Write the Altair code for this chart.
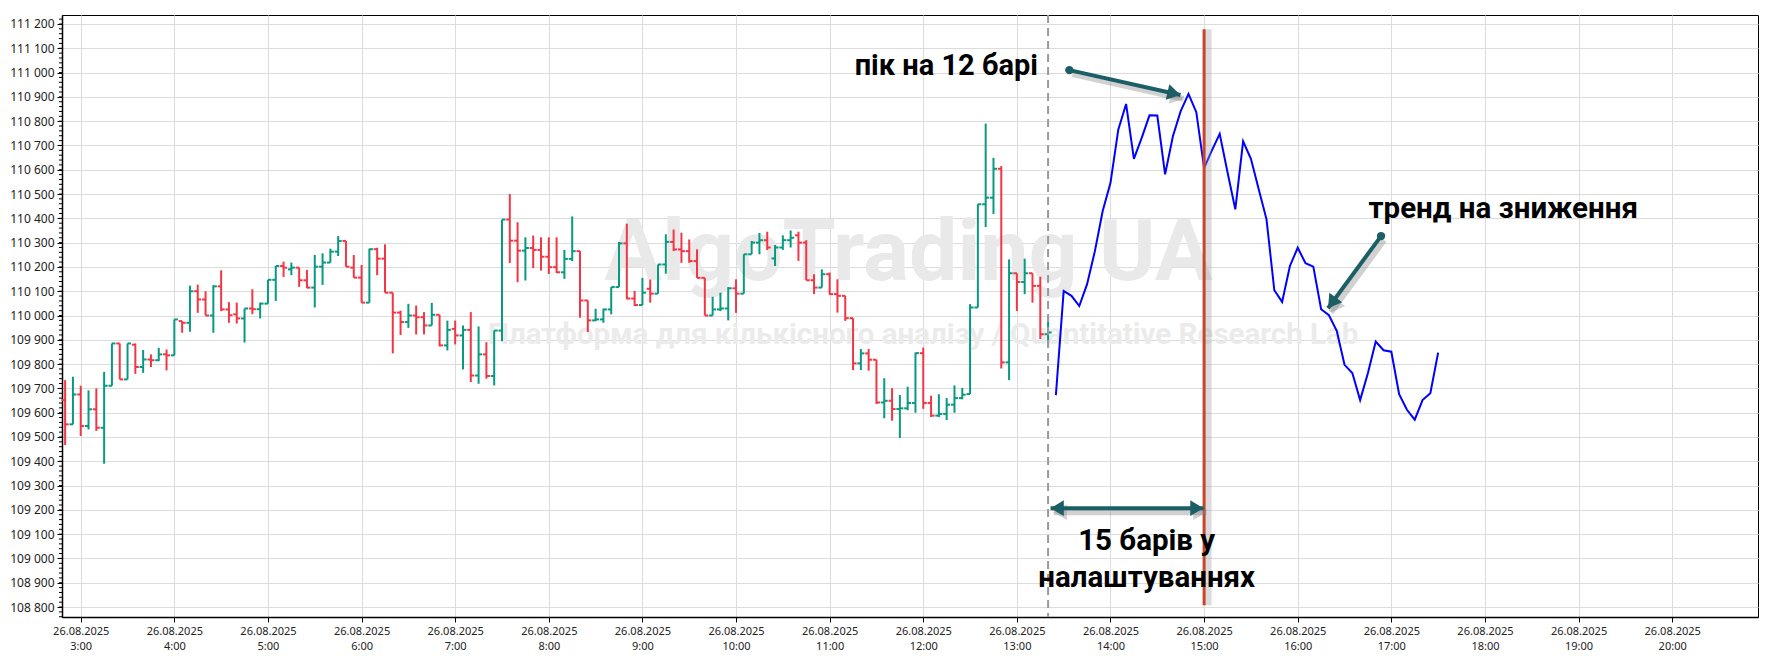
import altair as alt
import pandas as pd

# ---------------- data ----------------
BAR_START = "2025-08-26 02:50"
bar_open = [109652, 109552, 109675, 109545, 109614, 109538, 109711, 109885, 109737, 109880,
            109788, 109819, 109816, 109840, 109836, 109977, 109970, 110100, 110066, 110000,
            110120, 110025, 110005, 109988, 110029, 110026, 110049, 110147, 110204, 110190,
            110197, 110145, 110115, 110201, 110218, 110263, 110307, 110197, 110156, 110053,
            110273, 110234, 110094, 110012, 109973, 110000, 109993, 109959, 110003, 109877,
            109945, 109918, 109941, 109753, 109840, 109751, 109938, 110395, 110308, 110267,
            110278, 110270, 110242, 110199, 110178, 110233, 110265, 110062, 109980, 109984,
            110025, 110117, 110297, 110070, 110043, 110110, 110090, 110210, 110303, 110272,
            110265, 110224, 110155, 110000, 110025, 110029, 110112, 110090, 110252, 110300,
            110310, 110235, 110280, 110310, 110330, 110300, 110145, 110115, 110170, 110088,
            110081, 109989, 109803, 109844, 109818, 109642, 109649, 109615, 109618, 109640,
            109845, 109640, 109588, 109595, 109633, 109660, 109677, 110033, 110458, 110485,
            110604, 109807, 110174, 110138, 110174, 110122, 109923]
bar_high = [109734, 109748, 109711, 109692, 109700, 109768, 109885, 109885, 109885, 109885,
            109858, 109840, 109867, 109860, 109984, 109977, 110123, 110127, 110100, 110125,
            110186, 110055, 110053, 110029, 110108, 110053, 110147, 110204, 110222, 110218,
            110197, 110188, 110249, 110256, 110275, 110327, 110307, 110249, 110208, 110275,
            110279, 110293, 110094, 110020, 110048, 110041, 110014, 110052, 110003, 109979,
            109979, 109959, 110014, 109955, 109890, 109938, 110395, 110500, 110384, 110322,
            110329, 110322, 110322, 110322, 110270, 110408, 110265, 110062, 110028, 110028,
            110117, 110303, 110378, 110101, 110155, 110148, 110210, 110334, 110354, 110341,
            110313, 110272, 110155, 110077, 110094, 110117, 110149, 110252, 110307, 110340,
            110345, 110290, 110330, 110350, 110345, 110310, 110170, 110190, 110177, 110149,
            110081, 109989, 109862, 109862, 109818, 109742, 109701, 109673, 109707, 109848,
            109868, 109670, 109676, 109660, 109712, 109702, 110047, 110458, 110790, 110649,
            110615, 110231, 110174, 110234, 110174, 110160, 109998]
bar_low = [109467, 109552, 109504, 109531, 109525, 109390, 109711, 109737, 109737, 109760,
           109764, 109788, 109812, 109774, 109836, 109929, 109933, 110011, 110000, 109929,
           110018, 109970, 109967, 109889, 110005, 109988, 110049, 110060, 110159, 110166,
           110118, 110112, 110033, 110126, 110218, 110245, 110201, 110156, 110053, 110053,
           110166, 110094, 109844, 109920, 109949, 109922, 109922, 109959, 109873, 109856,
           109881, 109778, 109726, 109719, 109740, 109712, 109894, 110216, 110137, 110144,
           110195, 110185, 110171, 110175, 110151, 110224, 109991, 109932, 109977, 109970,
           110005, 110117, 110067, 110039, 110043, 110053, 110090, 110172, 110265, 110217,
           110217, 110155, 110000, 110000, 110018, 109980, 110011, 110090, 110252, 110252,
           110270, 110204, 110270, 110280, 110225, 110145, 110088, 110115, 110085, 110012,
           109978, 109775, 109775, 109773, 109636, 109577, 109567, 109496, 109610, 109600,
           109616, 109582, 109582, 109570, 109600, 109655, 109677, 110033, 110364, 110418,
           109782, 109734, 110019, 110088, 110053, 109903, 109875]
bar_close = [109552, 109675, 109545, 109614, 109538, 109711, 109885, 109737, 109885, 109788,
             109819, 109816, 109840, 109836, 109984, 109970, 110100, 110066, 110000, 110120,
             110025, 110001, 109988, 110029, 110026, 110049, 110147, 110204, 110197, 110197,
             110145, 110115, 110201, 110218, 110263, 110307, 110201, 110156, 110053, 110273,
             110234, 110094, 110012, 109973, 110000, 109993, 109959, 110003, 109877, 109941,
             109918, 109941, 109753, 109840, 109751, 109938, 110395, 110308, 110267, 110278,
             110270, 110242, 110199, 110178, 110233, 110265, 110062, 109980, 109984, 110025,
             110117, 110297, 110070, 110043, 110094, 110090, 110210, 110303, 110272, 110265,
             110224, 110155, 110000, 110025, 110029, 110112, 110090, 110252, 110300, 110310,
             110280, 110280, 110310, 110320, 110300, 110145, 110115, 110170, 110088, 110081,
             109989, 109803, 109844, 109818, 109642, 109649, 109615, 109618, 109640, 109845,
             109640, 109588, 109595, 109633, 109660, 109674, 110033, 110458, 110485, 110604,
             109807, 110174, 110138, 110174, 110122, 109923, 109930]

FC_START = "2025-08-26 13:25"
forecast = [109672, 110101, 110081, 110039, 110129, 110265, 110430, 110546, 110765, 110871,
            110645, 110731, 110824, 110823, 110581, 110738, 110841, 110912, 110837, 110608,
            110680, 110748, 110590, 110437, 110717, 110645, 110520, 110396, 110104, 110056,
            110204, 110279, 110215, 110201, 110026, 110001, 109937, 109797, 109763, 109652,
            109763, 109893, 109857, 109851, 109676, 109612, 109571, 109652, 109680, 109847]

y_major = list(range(108800, 111201, 100))
y_minor = list(range(108760, 111237, 20))
x_hours = list(range(3, 21))

GREEN = "#089981"
RED = "#f23645"
TEAL = "#1b5e66"
SHADOW = "#7a7a7a"
FONT = "Roboto"

W, H = 1696, 602


def ts(s):
    return pd.Timestamp(s).strftime("%Y-%m-%dT%H:%M:%SZ")


times = pd.date_range(BAR_START, periods=len(bar_close), freq="5min")
bars = pd.DataFrame({
    "t": [x.strftime("%Y-%m-%dT%H:%M:%SZ") for x in times],
    "open": bar_open, "high": bar_high, "low": bar_low, "close": bar_close,
})
bars["dir"] = ["up" if c >= o else "down" for o, c in zip(bar_open, bar_close)]

ftimes = pd.date_range(FC_START, periods=len(forecast), freq="5min")
fc = pd.DataFrame({"t": [x.strftime("%Y-%m-%dT%H:%M:%SZ") for x in ftimes], "v": forecast})


def dt(h, m=0, s=0):
    return alt.DateTime(year=2025, month=8, date=26, hours=h, minutes=m, seconds=s, utc=True)


xscale = alt.Scale(type="utc", domain=[dt(2, 48), dt(20, 55)])
yscale = alt.Scale(domain=[108759, 111237], nice=False, zero=False)

X_axis = alt.Axis(values=[dt(h) for h in x_hours],
                  labelExpr="[utcFormat(datum.value, '%d.%m.%Y'), utcFormat(datum.value, '%-H:%M')]",
                  labelFont="Noto Sans", labelFontSize=11, labelColor="#222",
                  labelLineHeight=15, labelPadding=3, tickSize=5, tickColor="#000",
                  domainColor="#000", domainWidth=1.5, gridColor="#dcdcdc",
                  labelFlush=False, labelOverlap=False)
Y_axis = alt.Axis(values=y_major, tickCount=25,
                  labelExpr="replace(format(datum.value, ','), ',', ' ')",
                  labelFont="Noto Sans", labelFontSize=12, labelColor="#222",
                  tickSize=5, tickColor="#000", labelPadding=3, labelOverlap=False,
                  domainColor="#000", domainWidth=1.5, gridColor="#dcdcdc")


def XT(field):
    return alt.X(field, type="temporal", scale=xscale, axis=X_axis, title=None)


def YQ(field):
    return alt.Y(field, type="quantitative", scale=yscale, axis=Y_axis, title=None)


color = alt.Color("dir:N", scale=alt.Scale(domain=["up", "down"], range=[GREEN, RED]), legend=None)

base = alt.Chart(bars)
wick = base.mark_rule(strokeWidth=2).encode(
    x=XT("t"), y=YQ("low"), y2="high:Q", color=color)
otick = base.mark_rule(strokeWidth=2, xOffset=-3.5, x2Offset=0).encode(
    x=XT("t"), x2="t:T", y=YQ("open"), color=color)
ctick = base.mark_rule(strokeWidth=2, xOffset=0, x2Offset=3.5).encode(
    x=XT("t"), x2="t:T", y=YQ("close"), color=color)

fline = alt.Chart(fc).mark_line(color="#0000ff", strokeWidth=2).encode(x=XT("t"), y=YQ("v"))

# minor y ticks
minor = alt.Chart(pd.DataFrame({"v": y_minor})).mark_rule(color="#000", strokeWidth=1).encode(
    y=YQ("v"), x=alt.value(-3), x2=alt.value(0))

# watermark
wm = pd.DataFrame({
    "t": [ts("2025-08-26 11:50:30"), ts("2025-08-26 12:00:00")],
    "v": [110146, 109919],
    "txt": ["AlgoTrading UA", "Платформа для кількісного аналізу / Quantitative Research Lab"],
})
wm1 = alt.Chart(wm.iloc[[0]]).mark_text(font=FONT, fontSize=86, fontWeight="bold", color="#e9e9e9",
                                        baseline="alphabetic", align="center").encode(
    x=XT("t"), y=YQ("v"), text="txt:N")
wm2 = alt.Chart(wm.iloc[[1]]).mark_text(font=FONT, fontSize=29.5, fontWeight="bold", color="#ebebeb",
                                        baseline="middle", align="center").encode(
    x=XT("t"), y=YQ("v"), text="txt:N")

# vertical markers
dash = alt.Chart(pd.DataFrame({"t": [ts("2025-08-26 13:20")]})).mark_rule(
    color="#9a9a9a", strokeWidth=2, strokeDash=[8, 5]).encode(
    x=XT("t"), y=alt.value(0), y2=alt.value(H))
redline_df = pd.DataFrame({"t": [ts("2025-08-26 15:00")], "y0": [111178], "y1": [108807]})
red_shadow = alt.Chart(redline_df).mark_rule(color="#9a9a9a", strokeWidth=7, opacity=0.35, xOffset=4).encode(
    x=XT("t"), y=YQ("y0"), y2="y1:Q")
redline = alt.Chart(redline_df).mark_rule(color="#c8452c", strokeWidth=3).encode(
    x=XT("t"), y=YQ("y0"), y2="y1:Q")

# arrows
arrows = pd.DataFrame({
    "t0": [ts("2025-08-26 13:33:40"), ts("2025-08-26 16:53:24"), ts("2025-08-26 13:21:36")],
    "v0": [111010, 110327, 109207],
    "t1": [ts("2025-08-26 14:44:50"), ts("2025-08-26 16:19:24"), ts("2025-08-26 14:59:36")],
    "v1": [110908, 110030, 109207],
})
heads = pd.DataFrame({
    "t": [ts("2025-08-26 14:44:50"), ts("2025-08-26 16:19:24"), ts("2025-08-26 13:21:36"), ts("2025-08-26 14:59:36")],
    "v": [110908, 110030, 109207, 109207],
    "ang": [103, 216, 270, 90],
})
dots = pd.DataFrame({"t": [ts("2025-08-26 13:33:40"), ts("2025-08-26 16:53:24")], "v": [111010, 110327]})
HEAD = "M0,0L0.6,1L-0.6,1Z"

a_sh = alt.Chart(arrows).mark_rule(color=SHADOW, strokeWidth=6, opacity=0.35, xOffset=3, yOffset=4, x2Offset=3, y2Offset=4).encode(
    x=XT("t0"), y=YQ("v0"), x2="t1:T", y2="v1:Q")
a_ln = alt.Chart(arrows).mark_rule(color=TEAL, strokeWidth=4).encode(
    x=XT("t0"), y=YQ("v0"), x2="t1:T", y2="v1:Q")
h_sh = alt.Chart(heads).mark_point(shape=HEAD, filled=True, size=700, color=SHADOW, opacity=0.35,
                                   xOffset=3, yOffset=4).encode(x=XT("t"), y=YQ("v"), angle=alt.Angle("ang:Q", scale=None))
h_ln = alt.Chart(heads).mark_point(shape=HEAD, filled=True, size=700, color=TEAL, opacity=1).encode(
    x=XT("t"), y=YQ("v"), angle=alt.Angle("ang:Q", scale=None))
d_ln = alt.Chart(dots).mark_point(shape="circle", filled=True, size=70, color=TEAL, opacity=1).encode(
    x=XT("t"), y=YQ("v"))

# annotation texts
ann = pd.DataFrame({
    "t": [ts("2025-08-26 13:13:30"), ts("2025-08-26 18:11:42"), ts("2025-08-26 14:23:12"), ts("2025-08-26 14:23:12")],
    "v": [111027, 110438, 109071, 108918],
    "txt": ["пік на 12 барі", "тренд на зниження", "15 барів у", "налаштуваннях"],
})
t1 = alt.Chart(ann.iloc[[0]]).mark_text(font=FONT, fontSize=29, fontWeight="bold", color="#000",
                                        align="right", baseline="middle").encode(x=XT("t"), y=YQ("v"), text="txt:N")
t2 = alt.Chart(ann.iloc[1:]).mark_text(font=FONT, fontSize=29.5, fontWeight="bold", color="#000",
                                       align="center", baseline="middle").encode(x=XT("t"), y=YQ("v"), text="txt:N")

chart = alt.layer(
    wm1, wm2, wick, otick, ctick, fline, minor, dash, red_shadow, redline,
    a_sh, h_sh, a_ln, h_ln, d_ln, t1, t2,
).properties(
    width=W, height=H,
    autosize=alt.AutoSizeParams(type="none"),
    padding={"left": 54, "top": 7, "right": 4, "bottom": 35},
    background="white",
).configure_view(stroke="#000", strokeWidth=1)

chart.save("out.html", embed_options={"renderer": "svg", "actions": False})
